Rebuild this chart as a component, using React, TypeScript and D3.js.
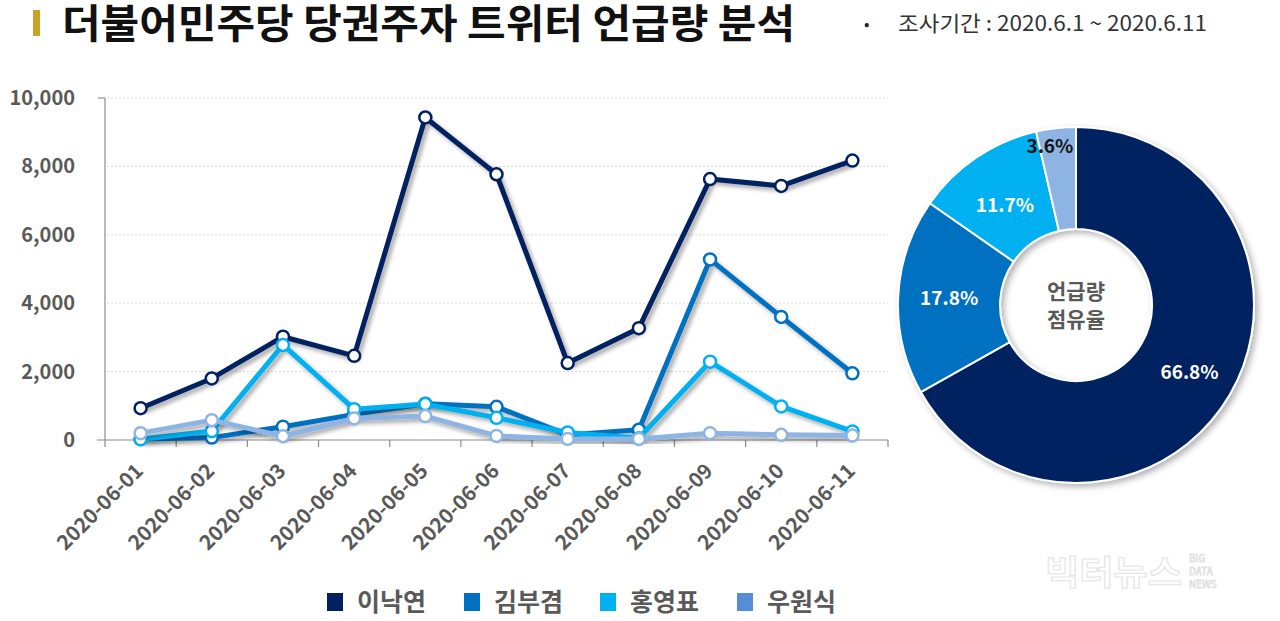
import React from "react";
import * as d3 from "d3";

const dates = ["2020-06-01","2020-06-02","2020-06-03","2020-06-04","2020-06-05","2020-06-06","2020-06-07","2020-06-08","2020-06-09","2020-06-10","2020-06-11"];
const names = ["이낙연", "김부겸", "홍영표", "우원식"];
const leeNakyon = [930, 1800, 3020, 2460, 9430, 7770, 2250, 3270, 7630, 7430, 8170];
const kimBugyeom = [30, 70, 390, 750, 1060, 970, 150, 300, 5280, 3600, 1950];
const hongYoungpyo = [20, 260, 2780, 900, 1050, 650, 220, 50, 2290, 980, 250];
const wooWonsik = [200, 580, 110, 630, 700, 120, 30, 30, 200, 150, 130];
const shares = [66.8, 17.8, 11.7, 3.6];
const yTicks = [0, 2000, 4000, 6000, 8000, 10000];

const lineColors = ["#002060", "#0070C0", "#00B0F0", "#8DB4E2"];
const legendColors = ["#002060", "#0070C0", "#00B0F0", "#558ED5"];
const FONT = "'Noto Sans CJK KR', 'Noto Sans', sans-serif";
const GRAY = "#595959";

export default function App() {
  const series = [leeNakyon, kimBugyeom, hongYoungpyo, wooWonsik];
  const x = d3.scaleBand<string>().domain(dates).range([105, 888]);
  const y = d3.scaleLinear().domain([0, 10000]).range([440, 98]);
  const cx = (d: string) => (x(d) as number) + x.bandwidth() / 2;
  const line = d3.line<number>().x((_, i) => cx(dates[i])).y((v) => y(v));

  const pieCx = 1076, pieCy = 305, rOut = 178, rIn = 76;
  const pie = d3.pie<number>().sort(null).value((d) => d)(shares);
  const arc = d3.arc<d3.PieArcDatum<number>>().innerRadius(rIn).outerRadius(rOut);

  const boundaries = d3.range(dates.length + 1).map((i) => 105 + i * x.bandwidth());

  return (
    <div style={{ position: "absolute", left: 0, top: 0 }}>
      <svg width={1280} height={621} style={{ display: "block", background: "#fff" }} fontFamily={FONT}>
        <defs>
          <filter id="sh" x="-20%" y="-20%" width="140%" height="140%">
            <feDropShadow dx="3" dy="3" stdDeviation="2" floodColor="#000" floodOpacity="0.35" />
          </filter>
          <filter id="shp" x="-20%" y="-20%" width="140%" height="140%">
            <feDropShadow dx="3" dy="3" stdDeviation="3" floodColor="#000" floodOpacity="0.3" />
          </filter>
        </defs>

        {/* Title */}
        <rect x={33} y={10} width={7} height={26} fill="#C9A227" />
        <text x={62} y={38} fontSize={40} fontWeight={700} fill="#111" textLength={733} lengthAdjust="spacingAndGlyphs">더불어민주당 당권주자 트위터 언급량 분석</text>
        <text x={864} y={30} fontSize={16} fill="#222">•</text>
        <text x={898} y={31} fontSize={21} fill="#333" textLength={309} lengthAdjust="spacingAndGlyphs">조사기간 : 2020.6.1 ~ 2020.6.11</text>

        {/* Grid */}
        {yTicks.filter((t) => t > 0).map((t) => (
          <line key={t} x1={107} x2={888} y1={y(t)} y2={y(t)} stroke="#D9D9D9" strokeDasharray="2,2" strokeWidth={1} />
        ))}
        {/* Axes */}
        <line x1={105} x2={105} y1={y(10000)} y2={y(0)} stroke="#8C8C8C" strokeWidth={1.2} />
        <line x1={98} x2={105} y1={y(10000)} y2={y(10000)} stroke="#8C8C8C" strokeWidth={1.2} />
        <line x1={97} x2={888} y1={y(0)} y2={y(0)} stroke="#8C8C8C" strokeWidth={1.2} />
        {boundaries.map((b, i) => (
          <line key={i} x1={b} x2={b} y1={y(0)} y2={y(0) + 7} stroke="#8C8C8C" strokeWidth={1.2} />
        ))}
        {yTicks.map((t) => (
          <text key={t} x={75} y={y(t) + 7} fontSize={20} fontWeight={700} fill={GRAY} textAnchor="end">
            {d3.format(",")(t)}
          </text>
        ))}
        {dates.map((d) => (
          <text key={d} transform={`translate(${cx(d) - 1},${467}) rotate(-45)`} fontSize={20.5} fontWeight={700} fill={GRAY} textAnchor="end" dy="0.35em">
            {d}
          </text>
        ))}

        {/* Lines */}
        {series.map((s, si) => (
          <g key={si}>
            <path d={line(s) as string} fill="none" stroke={lineColors[si]} strokeWidth={5} strokeLinejoin="round" filter="url(#sh)" />
            {s.map((v, i) => (
              <circle key={i} cx={cx(dates[i])} cy={y(v)} r={6} fill="#fff" stroke={lineColors[si]} strokeWidth={2.5} />
            ))}
          </g>
        ))}

        {/* Donut */}
        <g transform={`translate(${pieCx},${pieCy})`}>
          <g filter="url(#shp)">
            {pie.map((p, i) => (
              <path key={i} d={arc(p) as string} fill={lineColors[i]} stroke="#fff" strokeWidth={2} />
            ))}
          </g>
          {pie.map((p, i) => {
            const mid = (p.startAngle + p.endAngle) / 2;
            const r = i === 3 ? 160 : (rIn + rOut) / 2;
            const lx = Math.sin(mid) * r - (i === 3 ? 8 : 0) + (i === 0 ? 4 : 0);
            const ly = -Math.cos(mid) * r + (i === 2 ? 6 : 0) + (i === 0 ? 3 : 0);
            return (
              <text key={i} x={lx} y={ly} dy="0.35em" textAnchor="middle" fontSize={19} fontWeight={700} fill={i === 3 ? "#111" : "#fff"}>
                {d3.format(".1f")(shares[i])}%
              </text>
            );
          })}
          <text x={0} y={-13} dy="0.35em" textAnchor="middle" fontSize={21} fontWeight={700} fill={GRAY}>언급량</text>
          <text x={0} y={15} dy="0.35em" textAnchor="middle" fontSize={21} fontWeight={700} fill={GRAY}>점유율</text>
        </g>

        {/* Legend */}
        {names.map((n, i) => {
          const lx = [327, 464, 600, 737][i];
          return (
            <g key={n}>
              <rect x={lx} y={593} width={16} height={18} fill={legendColors[i]} />
              <text x={lx + 30} y={611} fontSize={25} fontWeight={700} fill={GRAY}>{n}</text>
            </g>
          );
        })}

        {/* Watermark */}
        <text x={1045} y={585} fontSize={34} fontWeight={700} fill="#fff" stroke="#E6E6E6" strokeWidth={1.2} textLength={137} lengthAdjust="spacingAndGlyphs">빅터뉴스</text>
        <text x={1189} y={562} fontSize={10} fill="#fff" stroke="#E0E0E0" strokeWidth={0.8}>BIG</text>
        <text x={1189} y={575} fontSize={10} fill="#fff" stroke="#E0E0E0" strokeWidth={0.8}>DATA</text>
        <text x={1189} y={588} fontSize={10} fill="#fff" stroke="#E0E0E0" strokeWidth={0.8}>NEWS</text>
      </svg>
    </div>
  );
}
